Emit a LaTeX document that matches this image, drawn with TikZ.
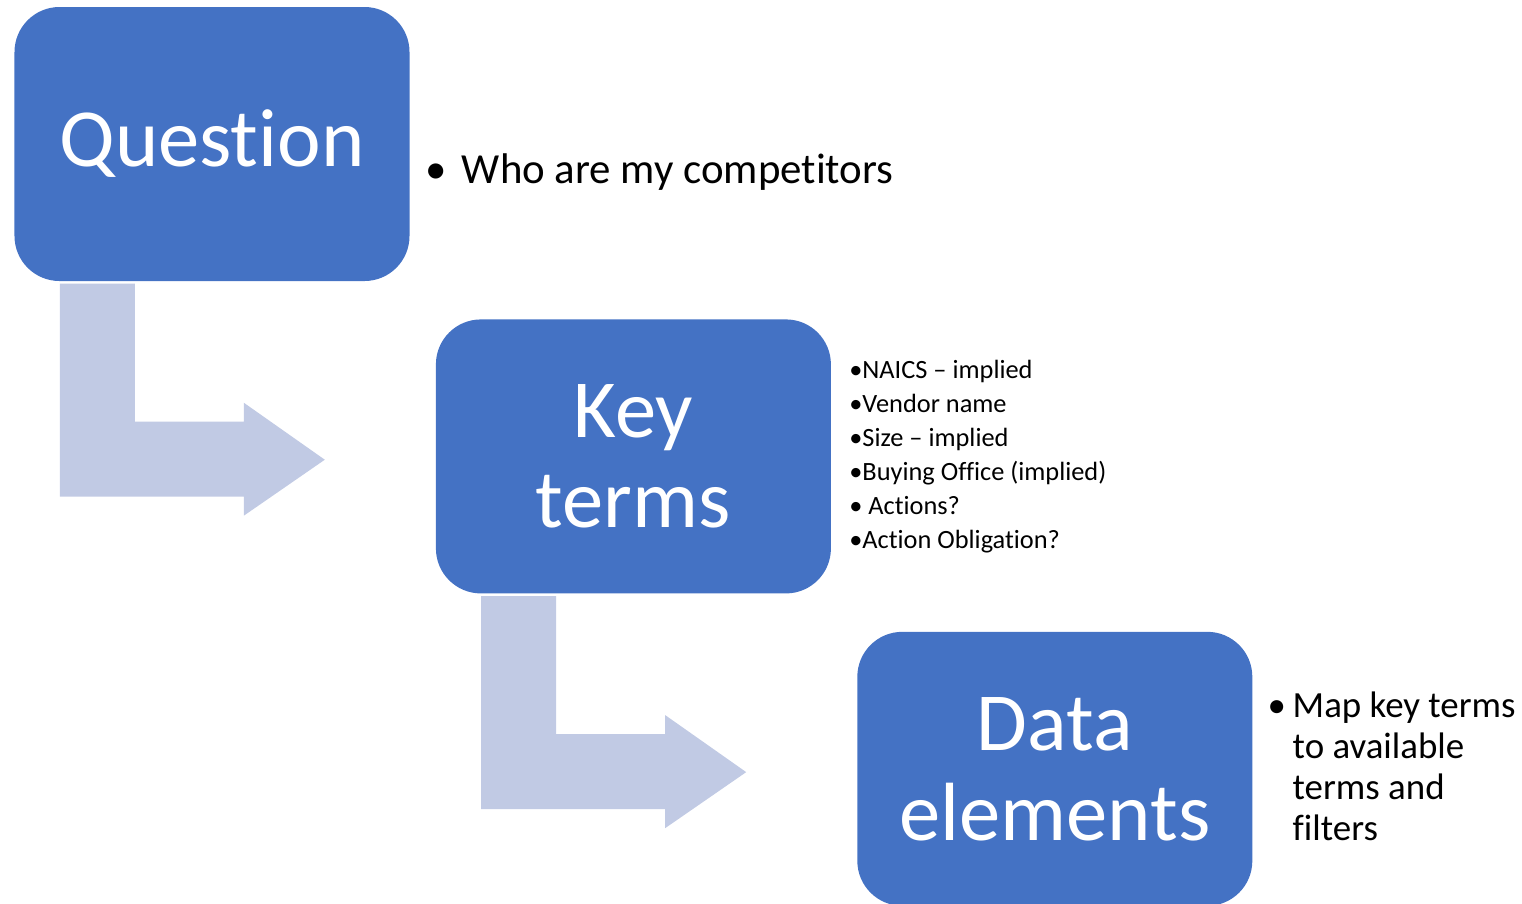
\documentclass[tikz,border=0pt]{standalone}
\usepackage{fontspec}
\setmainfont{Carlito}[Ligatures = NoCommon]
\usetikzlibrary{positioning,calc}

\definecolor{boxblue}{HTML}{4472C4}
\definecolor{arrowblue}{RGB}{193,202,228}

\tikzstyle{stage} = [rectangle, rounded corners = 0.45cm, fill = boxblue, text = white, minimum width = 3.95cm, minimum height = 2.74cm, inner sep = 0pt, align = center, font = \fontsize{23.5}{25.6}\selectfont]
\tikzstyle{bent} = [fill = arrowblue, draw = none]
\tikzstyle{item} = [anchor = base west, inner sep = 0pt]

\begin{document}
\begin{tikzpicture}
        \useasboundingbox (0,0) rectangle (15.22,-9.03);

        \node[stage] (Q) at (2.12,-1.44) {Question};
        \node[stage, below right = 0.37cm and 0.25cm of Q] (K) {Key\\terms};
        \node[stage, below right = 0.37cm and 0.25cm of K] (D) {Data\\elements};

        % bent arrows from one stage to the next
        \foreach \s in {Q, K} {
            \path[bent] ($(\s.south west)+(0.46,-0.02)$) -- ++(0.75,0) -- ++(0,-1.38) -- ++(1.09,0) -- ++(0,0.19)
                -- ++(0.81,-0.57) -- ++(-0.81,-0.56) -- ++(0,0.19) -- ++(-1.84,0) -- cycle;
        }

        % question
        \node[item, font = \fontsize{12.2}{15}\selectfont] (qb) at ($(Q.east)+(0.15,-0.39)$) {•};
        \node[item, font = \fontsize{12.2}{15}\selectfont] (qt) at ($(Q.east)+(0.51,-0.39)$) {Who are my competitors};

        % key terms
        \foreach \t [count = \i] in {•NAICS – implied, •Vendor name, •Size – implied, •Buying Office (implied), • Actions?, •Action Obligation?}
            \node[item, font = \fontsize{7.5}{9}\selectfont] (k\i) at ($(K.east)+(0.17,1.12-0.34*\i)$) {\t};

        % data elements
        \node[item, font = \fontsize{10.5}{12}\selectfont] (db) at ($(D.east)+(0.14,0.51)$) {•};
        \foreach \t [count = \i] in {Map key terms, to available, terms and, filters}
            \node[item, font = \fontsize{10.5}{12}\selectfont] (d\i) at ($(D.east)+(0.39,0.92-0.41*\i)$) {\t};
\end{tikzpicture}
\end{document}
